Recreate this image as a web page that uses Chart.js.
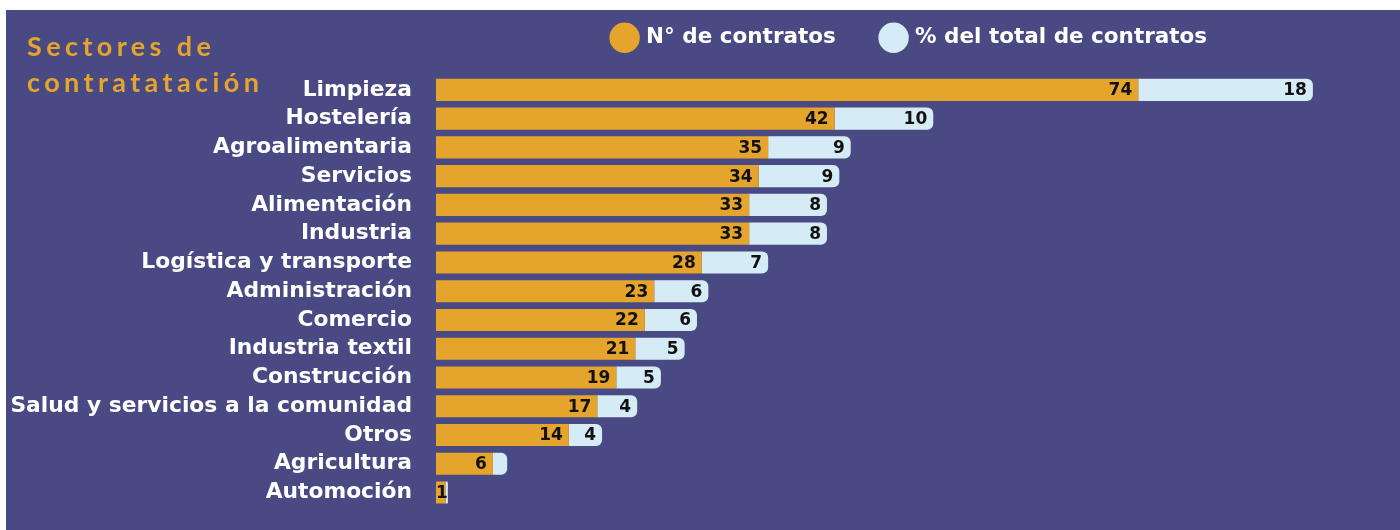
<!DOCTYPE html>
<html>
<head>
<meta charset="utf-8">
<script src="https://cdn.jsdelivr.net/npm/chart.js@4"></script>
<style>
  body { margin: 0; background: #ffffff; }
  #caja { position: absolute; left: 6px; top: 10px; width: 1394px; height: 520px; background: #494983; overflow: hidden; }
  #titulo { position: absolute; left: 21px; top: 18px; color: #e5a42c; font-family: "Lato"; font-weight: 700;
            font-size: 27px; letter-spacing: 4.4px; line-height: 36px; }
  #wrap { position: absolute; left: 0; top: -30px; width: 1394px; height: 556px; }
</style>
</head>
<body>
<div id="caja">
  <div id="wrap"><canvas id="chartSectores"></canvas></div>
  <div id="titulo">Sectores de<br>contratatación</div>
</div>
<script>
// Datos
const sectores = ["Limpieza", "Hostelería", "Agroalimentaria", "Servicios", "Alimentación", "Industria",
  "Logística y transporte", "Administración", "Comercio", "Industria textil", "Construcción",
  "Salud y servicios a la comunidad", "Otros", "Agricultura", "Automoción"];
const contratos = [74, 42, 35, 34, 33, 33, 28, 23, 22, 21, 19, 17, 14, 6, 1];
const porcentaje = [18.4, 10.4, 8.7, 8.5, 8.2, 8.2, 7.0, 5.7, 5.5, 5.2, 4.7, 4.2, 3.5, 1.5, 0.25];

const naranja = "#e5a42c";
const celeste = "#d5ecf6";
const fuente = "DejaVu Sans";

// Etiquetas de valor al final de cada tramo
const etiquetas = {
  id: "etiquetas",
  afterDatasetsDraw(chart) {
    const ctx = chart.ctx;
    ctx.save();
    ctx.font = "700 17px " + fuente;
    ctx.fillStyle = "#111111";
    ctx.textAlign = "right";
    ctx.textBaseline = "middle";
    chart.data.datasets.forEach((ds, i) => {
      chart.getDatasetMeta(i).data.forEach((bar, j) => {
        const txt = String(Math.round(ds.data[j]));
        const w = ctx.measureText(txt).width;
        const ancho = bar.x - bar.base;
        if (i === 1 && ancho < w + 8) return;
        const x = Math.max(bar.x - 6, bar.base + w);
        ctx.fillText(txt, x, bar.y + 1);
      });
    });
    ctx.restore();
  }
};

const ctx = document.getElementById("chartSectores").getContext("2d");
const chart = new Chart(ctx, {
  type: "bar",
  data: {
    labels: sectores,
    datasets: [
      { label: "N° de contratos", data: contratos, backgroundColor: naranja,
        barPercentage: 0.77, categoryPercentage: 1 },
      { label: "% del total de contratos", data: porcentaje, backgroundColor: celeste,
        borderRadius: 6, borderSkipped: "start", barPercentage: 0.77, categoryPercentage: 1 }
    ]
  },
  options: {
    indexAxis: "y",
    responsive: true,
    maintainAspectRatio: false,
    animation: false,
    layout: { padding: { left: 0, right: 15, top: 0, bottom: 0 } },
    plugins: {
      legend: {
        position: "top",
        fullSize: false,
        labels: {
          color: "#ffffff",
          font: { family: fuente, weight: "700", size: 21.5 },
          usePointStyle: true,
          pointStyle: "circle",
          boxWidth: 22,
          boxHeight: 22,
          padding: 47
        }
      },
      tooltip: { enabled: false }
    },
    scales: {
      x: {
        stacked: true, min: 0, max: 100, position: "top",
        grid: { display: false }, border: { display: false }, ticks: { display: false },
        afterFit: (s) => { s.height = 17; }
      },
      y: {
        stacked: true,
        grid: { display: false },
        border: { display: false },
        ticks: { color: "#ffffff", font: { family: fuente, weight: "700", size: 21.8 }, padding: 16, autoSkip: false },
        afterFit: (s) => { s.width = 430; }
      }
    }
  },
  plugins: [etiquetas]
});
</script>
</body>
</html>
